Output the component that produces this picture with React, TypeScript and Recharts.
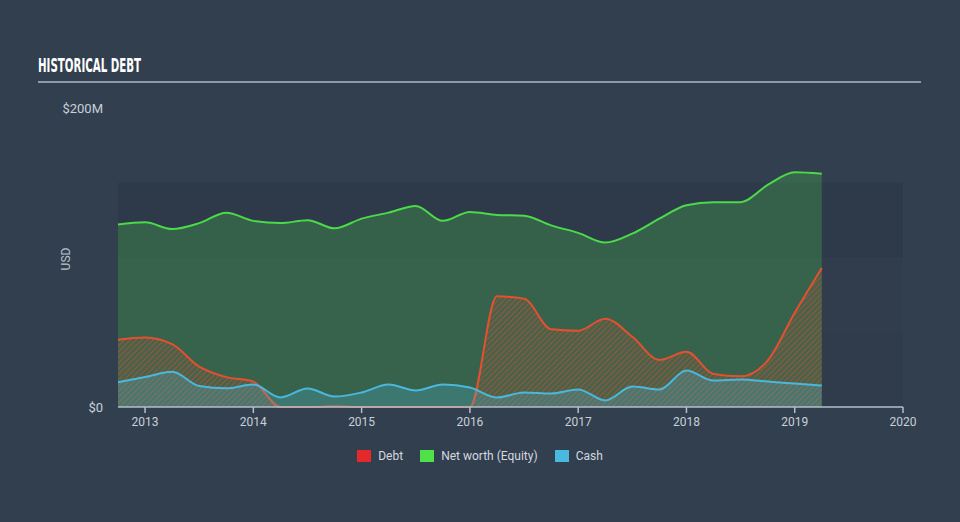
import React from "react";
import { ComposedChart, Area, XAxis, YAxis, ReferenceArea } from "recharts";

// quarterly readings, in $M
const quarters = [
  2012.75, 2013.0, 2013.25, 2013.5, 2013.75, 2014.0, 2014.25, 2014.5, 2014.75,
  2015.0, 2015.25, 2015.5, 2015.75, 2016.0, 2016.25, 2016.5, 2016.75, 2017.0,
  2017.25, 2017.5, 2017.75, 2018.0, 2018.25, 2018.5, 2018.75, 2019.0, 2019.25,
];
const netWorth = [
  122, 123.5, 119, 123, 130, 124.5, 123, 125, 119.5, 126, 130, 134.5, 124.5, 130.5,
  128.5, 128, 121.5, 116.5, 110, 116, 126, 135, 137, 137, 148.5, 157, 156,
];
const debt = [
  45, 46.5, 42, 27, 20, 17, 0, 0, 0.5, 0, 0, 0, 0, 0, 74, 72.5, 52, 51, 59, 47, 31.5,
  37, 22, 20.5, 31, 63, 93,
];
const cash = [
  16.5, 20, 23.5, 14, 12.5, 15, 6.4, 12.4, 7, 9.7, 15, 11, 15, 13, 6.4, 9.7, 9, 11.7,
  4.4, 13.7, 11.7, 24.4, 17.7, 18.4, 17, 15.7, 14.4,
];
const yearTicks = [2013, 2014, 2015, 2016, 2017, 2018, 2019, 2020];
const valueTicks = [0, 200];
const bands = [
  { from: 0, to: 50, fill: "#303c4c" },
  { from: 50, to: 100, fill: "#313d4d" },
  { from: 100, to: 150, fill: "#2e3a4a" },
];

const data = quarters.map((t, i) => ({
  t,
  netWorth: netWorth[i],
  debt: debt[i],
  cash: cash[i],
}));

const legendItems = [
  { name: "Debt", color: "#e5292b" },
  { name: "Net worth (Equity)", color: "#4fe04a" },
  { name: "Cash", color: "#4ab9de" },
];

const fontStack = "Roboto, 'Noto Sans', sans-serif";

export default function App() {
  return (
    <div
      style={{
        position: "relative",
        width: 960,
        height: 522,
        background: "#323f4f",
        overflow: "hidden",
        fontFamily: fontStack,
      }}
    >
      <style>{"body{margin:0}"}</style>
      <div
        style={{
          position: "absolute",
          left: 38,
          top: 53,
          color: "#ffffff",
          fontFamily: "'Liberation Sans Narrow', 'DejaVu Sans Condensed', sans-serif",
          fontWeight: 700,
          fontSize: 20,
          whiteSpace: "nowrap",
          transform: "scaleX(0.57)",
          transformOrigin: "left center",
        }}
      >
        HISTORICAL DEBT
      </div>
      <div
        style={{
          position: "absolute",
          left: 38,
          top: 81,
          width: 883,
          height: 2,
          background: "#8d9aa8",
        }}
      />
      <div
        style={{
          position: "absolute",
          left: 66,
          top: 259,
          transform: "translate(-50%, -50%) rotate(-90deg)",
          color: "#b9c2cc",
          fontSize: 12,
        }}
      >
        USD
      </div>
      <ComposedChart
        width={960}
        height={522}
        data={data}
        margin={{ top: 108, right: 57, bottom: 85, left: 0 }}
        style={{ position: "absolute", left: 0, top: 0 }}
      >
        <defs>
          <pattern
            id="debtHatch"
            patternUnits="userSpaceOnUse"
            width="4"
            height="4"
            patternTransform="rotate(45)"
          >
            <rect width="4" height="4" fill="#e5502e" fillOpacity="0.12" />
            <line x1="0" y1="0" x2="0" y2="4" stroke="#e5502e" strokeWidth="1.6" strokeOpacity="0.55" />
          </pattern>
        </defs>
        {bands.map((b) => (
          <ReferenceArea
            key={b.from}
            y1={b.from}
            y2={b.to}
            fill={b.fill}
            fillOpacity={1}
            stroke="none"
            ifOverflow="visible"
          />
        ))}
        <XAxis
          dataKey="t"
          type="number"
          domain={[2012.755, 2020]}
          ticks={yearTicks}
          allowDecimals={false}
          tick={{ fill: "#c9d0d8", fontSize: 12 }}
          axisLine={{ stroke: "#b5bfca", strokeWidth: 1.5 }}
          tickLine={{ stroke: "#b5bfca", strokeWidth: 1.5 }}
          tickSize={6}
          tickMargin={4}
          height={30}
        />
        <YAxis
          type="number"
          domain={[0, 200]}
          ticks={valueTicks}
          tickFormatter={(v: number) => (v === 0 ? "$0" : `$${v}M`)}
          tick={{ fill: "#c9d0d8", fontSize: 13 }}
          axisLine={false}
          tickLine={false}
          tickSize={0}
          tickMargin={15}
          width={118}
        />
        <Area
          type="monotone"
          dataKey="netWorth"
          stroke="#4cd94a"
          strokeWidth={2}
          fill="#4cd94a"
          fillOpacity={0.25}
          isAnimationActive={false}
        />
        <Area
          type="monotone"
          dataKey="debt"
          stroke="#e5502e"
          strokeWidth={2}
          fill="url(#debtHatch)"
          fillOpacity={1}
          isAnimationActive={false}
        />
        <Area
          type="monotone"
          dataKey="cash"
          stroke="#4ab8dc"
          strokeWidth={2}
          fill="#4ab8dc"
          fillOpacity={0.25}
          isAnimationActive={false}
        />
      </ComposedChart>
      <div
        style={{
          position: "absolute",
          left: 0,
          top: 449,
          width: 960,
          display: "flex",
          justifyContent: "center",
          gap: 17,
          color: "#d2d8df",
          fontSize: 12,
        }}
      >
        {legendItems.map((l) => (
          <div key={l.name} style={{ display: "flex", alignItems: "center" }}>
            <span
              style={{
                display: "inline-block",
                width: 14,
                height: 12,
                background: l.color,
                marginRight: 7,
              }}
            />
            {l.name}
          </div>
        ))}
      </div>
    </div>
  );
}
